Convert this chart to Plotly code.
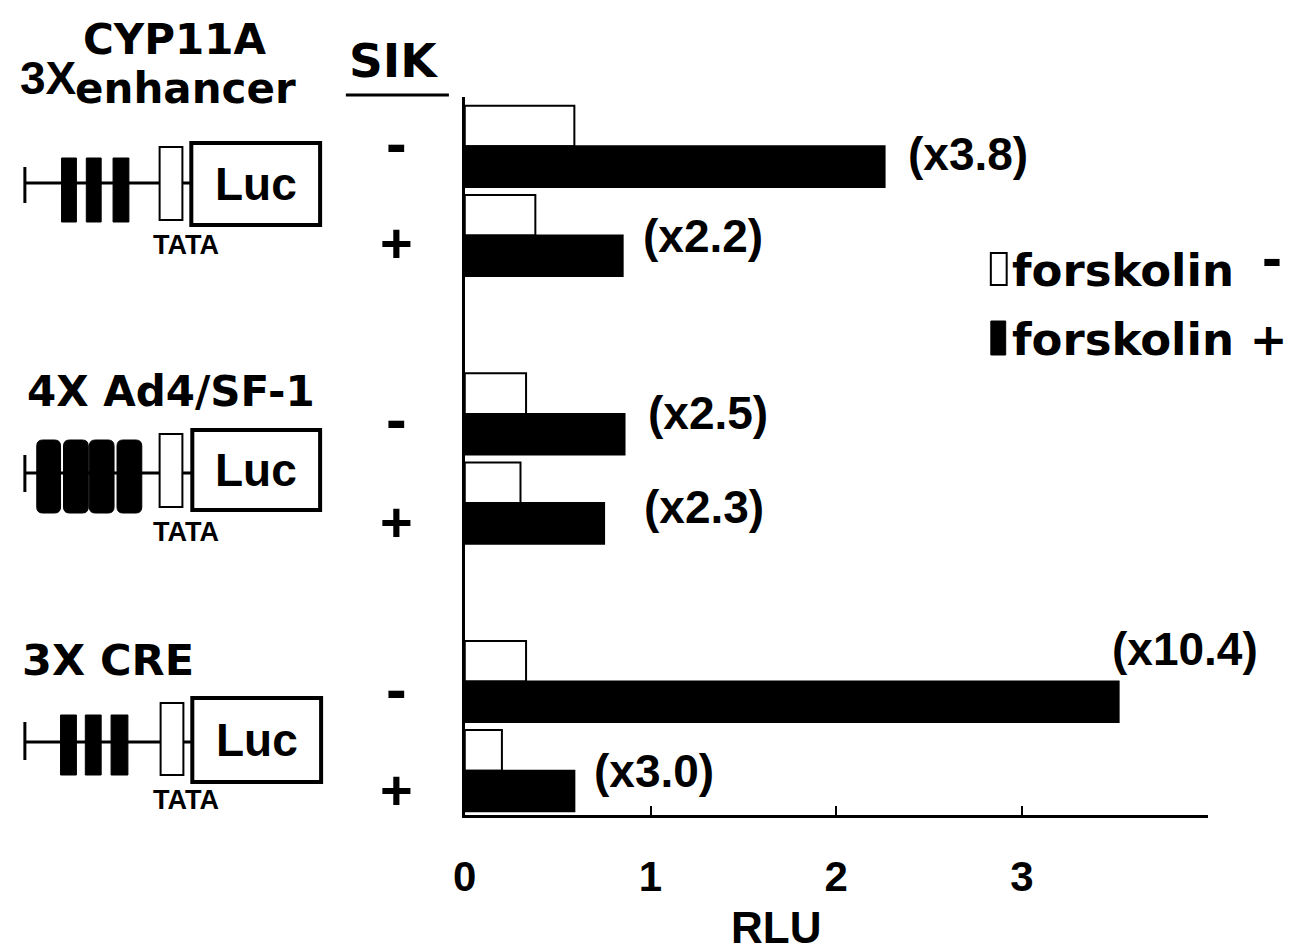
import plotly.graph_objects as go

W, H = 1293, 952

# ---- data ----
groups = ["3X CYP11A enhancer", "4X Ad4/SF-1", "3X CRE"]
sik = ["-", "+", "-", "+", "-", "+"]
rows = [0, 1, 3, 4, 6, 7]          # row slot of each construct/SIK pair
forsk_minus = [0.59, 0.38, 0.33, 0.30, 0.33, 0.20]
forsk_plus = [2.26, 0.85, 0.86, 0.75, 3.52, 0.59]
fold_labels = ["(x3.8)", "(x2.2)", "(x2.5)", "(x2.3)", "(x10.4)", "(x3.0)"]
x_ticks = [0, 1, 2, 3]

# label offsets (px) from black bar end
lab_dx = [21, 18, 21, 38, -9, 18]
lab_dy = [2, 10, 11, 6, 43, 10]

FONT = "Liberation Sans"
WIDE = "DejaVu Sans"

def px(x):
    return x / W

def py(y):
    return 1 - y / H

fig = go.Figure()
fig.add_trace(go.Bar(x=forsk_minus, y=rows, orientation="h", name="forskolin -",
                     marker=dict(color="white", line=dict(color="black", width=2))))
fig.add_trace(go.Bar(x=forsk_plus, y=rows, orientation="h", name="forskolin +",
                     marker=dict(color="black", line=dict(color="black", width=2))))

annotations = []
shapes = []

# fold labels
bar_half = 0.5 * (1 - 0.09) / 2
for r, v, t, dx, dy in zip(rows, forsk_plus, fold_labels, lab_dx, lab_dy):
    annotations.append(dict(x=v, y=r + bar_half / 2, xref="x", yref="y", text=t,
                            showarrow=False, xanchor="left", yanchor="middle",
                            xshift=dx, yshift=dy,
                            font=dict(family=FONT, size=46, color="black", weight="bold")))

def ptext(x, y, t, size, xanchor="center", family=FONT):
    annotations.append(dict(x=px(x), y=py(y), xref="paper", yref="paper", text=t,
                            showarrow=False, xanchor=xanchor, yanchor="middle",
                            font=dict(family=family, size=size, color="black", weight="bold")))

# group titles
ptext(6, 78, "3X", 46, "left")
ptext(70, 40, "CYP11A", 42, "left", WIDE)
ptext(62, 88, "enhancer", 42, "left", WIDE)
ptext(13, 391, groups[1], 42, "left", WIDE)
ptext(8, 660, groups[2], 43, "left", WIDE)

# SIK header
ptext(385, 61, "SIK", 47, "center", WIDE)
shapes.append(dict(type="line", xref="paper", yref="paper", x0=px(337), x1=px(441),
                   y0=py(95), y1=py(95), line=dict(color="black", width=3)))

# SIK +/- markers
sik_y = [142, 243, 418, 521, 688, 789]
for s, yy in zip(sik, sik_y):
    ptext(388, yy, s, 56 if s == "+" else 62)

# construct diagrams
line_y = [183, 473, 742]
luc_box = [(181, 143, 311, 225), (182, 430, 311, 510), (182, 698, 312, 782)]
tata_box = [(149, 147, 172, 220), (149, 434, 172, 507), (150, 703, 173, 775)]
tata_txt = [245, 532, 800]
tick_y = [(167, 203), (455, 492), (722, 760)]
elements = [
    [(50, 158, 65, 222), (75, 158, 90, 222), (102, 158, 118, 222)],
    [(25, 440, 49, 513), (52, 440, 77, 513), (78, 440, 103, 513), (106, 440, 131, 513)],
    [(49, 715, 65, 775), (74, 715, 90, 775), (100, 715, 117, 775)],
]
for gi in range(3):
    ly = line_y[gi]
    shapes.append(dict(type="line", xref="paper", yref="paper", x0=px(13), x1=px(182),
                       y0=py(ly), y1=py(ly), line=dict(color="black", width=3)))
    shapes.append(dict(type="line", xref="paper", yref="paper", x0=px(13), x1=px(13),
                       y0=py(tick_y[gi][0]), y1=py(tick_y[gi][1]), line=dict(color="black", width=3)))
    for (x0, y0, x1, y1) in elements[gi]:
        if gi == 1:
            r = 6
            path = (f"M {px(x0 + r)},{py(y0)} L {px(x1 - r)},{py(y0)} "
                    f"Q {px(x1)},{py(y0)} {px(x1)},{py(y0 + r)} L {px(x1)},{py(y1 - r)} "
                    f"Q {px(x1)},{py(y1)} {px(x1 - r)},{py(y1)} L {px(x0 + r)},{py(y1)} "
                    f"Q {px(x0)},{py(y1)} {px(x0)},{py(y1 - r)} L {px(x0)},{py(y0 + r)} "
                    f"Q {px(x0)},{py(y0)} {px(x0 + r)},{py(y0)} Z")
            shapes.append(dict(type="path", xref="paper", yref="paper", path=path,
                               fillcolor="black", line=dict(color="black", width=1)))
        else:
            shapes.append(dict(type="rect", xref="paper", yref="paper", x0=px(x0), x1=px(x1),
                               y0=py(y0), y1=py(y1), fillcolor="black",
                               line=dict(color="black", width=1)))
    tx0, ty0, tx1, ty1 = tata_box[gi]
    shapes.append(dict(type="rect", xref="paper", yref="paper", x0=px(tx0), x1=px(tx1),
                       y0=py(ty0), y1=py(ty1), fillcolor="white",
                       line=dict(color="black", width=2)))
    bx0, by0, bx1, by1 = luc_box[gi]
    shapes.append(dict(type="rect", xref="paper", yref="paper", x0=px(bx0), x1=px(bx1),
                       y0=py(by0), y1=py(by1), fillcolor="white",
                       line=dict(color="black", width=4)))
    ptext((bx0 + bx1) / 2, (by0 + by1) / 2, "Luc", 46)
    ptext(176, tata_txt[gi], "TATA", 27)

# legend
shapes.append(dict(type="rect", xref="paper", yref="paper", x0=px(988), x1=px(1004),
                   y0=py(253), y1=py(285), fillcolor="white", line=dict(color="black", width=2)))
shapes.append(dict(type="rect", xref="paper", yref="paper", x0=px(988), x1=px(1003),
                   y0=py(321), y1=py(355), fillcolor="black", line=dict(color="black", width=1)))
ptext(1007, 270, "forskolin", 45, "left", WIDE)
ptext(1007, 339, "forskolin +", 45, "left", WIDE)
ptext(1272, 258, "-", 60)

# axis title
ptext(771, 927, "RLU", 44)

fig.update_layout(
    width=W, height=H, margin=dict(l=0, r=0, t=0, b=0),
    paper_bgcolor="white", plot_bgcolor="white",
    barmode="group", bargap=0.09, bargroupgap=0,
    showlegend=False,
    xaxis=dict(domain=[457 / W, 1207 / W], range=[0, 4], showline=True, linecolor="black",
               linewidth=3, ticks="inside", ticklen=9, tickwidth=2, tickcolor="black",
               tickvals=x_ticks, showgrid=False, zeroline=False, ticklabelstandoff=23,
               tickfont=dict(family=FONT, size=42, color="black", weight="bold")),
    yaxis=dict(domain=[1 - 815 / H, 1 - 97 / H], range=[7.497, -0.553], showline=True,
               linecolor="black", linewidth=3, showticklabels=False, ticks="",
               showgrid=False, zeroline=False),
    annotations=annotations, shapes=shapes,
)

fig.write_html("out.html", config={"displayModeBar": False},
               post_script="document.body.style.margin='0';document.body.style.overflow='hidden';")
